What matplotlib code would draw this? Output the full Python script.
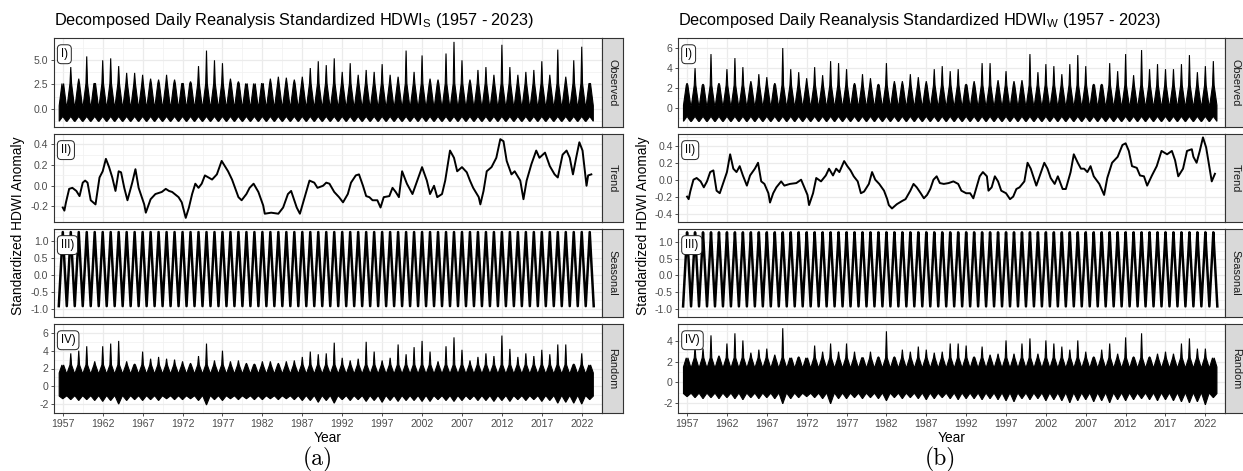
import numpy as np
import matplotlib
matplotlib.use("Agg")
import matplotlib.pyplot as plt

plt.rcParams['font.family'] = ['Liberation Sans', 'DejaVu Sans']
plt.rcParams['mathtext.fontset'] = 'custom'
plt.rcParams['mathtext.rm'] = 'Liberation Sans'
plt.rcParams['mathtext.it'] = 'Liberation Sans:italic'
plt.rcParams['mathtext.bf'] = 'Liberation Sans:bold'

# ---------------- data ----------------
peak_years = list(range(1957, 2024))

obs_a_peaks = [1.5, 4.3, 3.1, 5.4, 2.6, 5.0, 5.2, 4.4, 3.7, 3.7, 3.5, 3.1, 3.0, 3.5, 3.0, 2.6, 2.8,
               4.4, 6.0, 5.0, 4.7, 3.1, 2.8, 2.3, 2.0, 2.4, 3.1, 3.3, 3.2, 3.0, 3.3, 4.2, 4.9, 4.5,
               5.2, 3.8, 4.7, 3.5, 4.0, 3.8, 4.6, 3.5, 3.3, 6.0, 3.8, 5.5, 3.1, 3.0, 5.7, 6.9, 5.0,
               3.0, 4.0, 4.3, 3.5, 6.6, 4.3, 3.5, 3.8, 4.0, 4.9, 3.5, 6.1, 3.3, 5.0, 6.4, 2.6]

rand_a_peaks = [1.8, 3.7, 4.0, 4.5, 2.8, 4.5, 4.8, 5.1, 2.8, 2.5, 3.9, 3.1, 3.3, 3.1, 3.0, 2.8, 2.6,
                3.4, 4.8, 2.9, 4.0, 2.8, 2.9, 2.6, 2.5, 2.8, 2.8, 2.6, 2.8, 2.9, 3.3, 3.9, 3.6, 3.7,
                4.9, 3.2, 2.9, 3.1, 5.0, 3.9, 2.9, 3.2, 4.7, 3.6, 4.4, 5.1, 3.9, 2.8, 4.5, 5.5, 4.1,
                2.9, 3.3, 3.7, 3.4, 5.7, 4.2, 3.3, 3.7, 3.4, 4.1, 3.6, 4.7, 4.7, 2.5, 3.7, 2.0]

rand_a_mins = [-1.4, -1.5, -1.6, -1.5, -1.6, -1.7, -1.6, -2.0, -1.6, -1.5, -1.6, -1.5, -1.6, -1.4,
               -1.5, -1.5, -1.4, -1.6, -2.1, -1.5, -1.6, -1.4, -1.5, -1.4, -1.5, -1.5, -1.4, -1.5,
               -1.4, -1.5, -1.6, -1.6, -1.8, -1.6, -1.9, -1.5, -1.6, -1.5, -1.7, -1.6, -1.8, -1.6,
               -1.7, -1.6, -1.6, -1.7, -1.7, -1.5, -1.6, -1.7, -1.6, -1.5, -1.6, -1.6, -1.7, -1.6,
               -1.7, -1.5, -1.6, -1.5, -1.7, -1.6, -1.9, -1.8, -1.9, -2.0, -1.5]

obs_b_peaks = [2.5, 4.0, 2.4, 5.4, 2.5, 3.9, 5.0, 4.1, 2.7, 3.4, 3.1, 2.5, 6.0, 3.9, 3.6, 3.0, 4.1,
               3.3, 4.7, 4.5, 3.9, 2.5, 3.4, 3.0, 2.4, 4.5, 2.7, 2.7, 3.4, 3.1, 2.7, 3.9, 4.2, 3.7,
               3.9, 2.4, 2.7, 4.5, 4.5, 2.8, 3.7, 2.7, 2.8, 5.4, 3.6, 4.4, 4.2, 3.4, 4.4, 5.3, 4.2,
               2.4, 2.4, 4.5, 3.7, 5.4, 3.3, 5.8, 3.9, 4.4, 3.9, 3.9, 4.4, 5.3, 3.6, 4.2, 4.7]

rand_b_peaks = [1.5, 3.5, 3.3, 4.6, 2.6, 3.8, 4.8, 4.1, 2.9, 3.2, 3.3, 2.7, 5.3, 2.2, 2.5, 2.1, 3.6,
                3.0, 3.8, 3.0, 3.8, 3.0, 2.4, 3.0, 2.5, 5.0, 2.5, 3.2, 3.0, 3.5, 3.2, 2.9, 3.0, 3.8,
                3.8, 3.6, 2.5, 3.5, 2.7, 2.8, 4.1, 2.8, 3.8, 4.3, 2.8, 4.1, 3.8, 3.5, 3.2, 4.1, 3.0,
                2.5, 3.2, 3.8, 2.8, 4.4, 2.5, 4.8, 2.5, 2.8, 3.0, 2.8, 3.8, 4.3, 3.3, 3.3, 1.9]

rand_b_mins = [-1.4, -1.5, -1.6, -1.5, -1.6, -1.5, -1.6, -1.7, -1.5, -1.6, -1.5, -1.6, -2.1, -1.6,
               -1.5, -1.4, -1.5, -1.6, -2.1, -1.6, -1.6, -1.5, -1.6, -1.5, -1.6, -1.8, -1.5, -1.6,
               -1.5, -1.6, -1.7, -1.6, -1.5, -1.6, -1.7, -1.6, -1.6, -1.7, -1.6, -1.7, -1.8, -1.9,
               -1.6, -1.7, -1.6, -1.8, -1.7, -1.8, -2.0, -1.8, -1.7, -1.9, -1.8, -2.0, -1.7, -1.8,
               -1.7, -1.6, -1.7, -1.8, -1.7, -1.8, -1.9, -2.0, -1.9, -2.2, -1.5]

trend_a_years = [1957.0, 1957.2, 1957.4, 1957.8, 1958.2, 1958.7, 1959.1, 1959.5, 1959.8, 1960.1,
                 1960.5, 1961.1, 1961.6, 1962.0, 1962.4, 1962.8, 1963.2, 1963.6, 1964.0, 1964.3,
                 1964.7, 1965.1, 1965.7, 1966.1, 1966.5, 1967.2, 1967.4, 1968.0, 1968.6, 1969.4,
                 1969.9, 1970.3, 1970.7, 1971.5, 1971.9, 1972.4, 1972.8, 1973.2, 1973.6, 1974.0,
                 1974.4, 1974.8, 1975.7, 1976.3, 1976.9, 1977.3, 1977.7, 1978.2, 1979.0, 1979.4,
                 1980.0, 1980.4, 1980.9, 1981.5, 1982.1, 1982.3, 1983.1, 1984.0, 1984.6, 1985.2,
                 1985.6, 1986.3, 1986.7, 1987.3, 1987.9, 1988.5, 1988.9, 1989.6, 1990.0, 1990.4,
                 1991.0, 1991.6, 1992.1, 1992.7, 1993.1, 1993.7, 1994.1, 1994.6, 1995.0, 1995.4,
                 1995.8, 1996.4, 1996.8, 1997.2, 1997.9, 1998.3, 1998.7, 1999.1, 1999.5, 2000.1,
                 2000.8, 2001.4, 2002.0, 2002.6, 2003.0, 2003.5, 2003.9, 2004.5, 2004.9, 2005.5,
                 2006.0, 2006.4, 2007.0, 2007.6, 2008.0, 2008.4, 2009.1, 2009.3, 2009.7, 2010.1,
                 2010.7, 2011.3, 2011.8, 2012.2, 2012.6, 2013.2, 2013.6, 2014.3, 2014.7, 2015.1,
                 2015.7, 2016.3, 2016.7, 2017.4, 2018.0, 2018.6, 2019.0, 2019.6, 2020.1, 2020.5,
                 2020.9, 2021.3, 2021.7, 2022.1, 2022.6, 2022.8, 2023.2]
trend_a_vals = [-0.21, -0.24, -0.16, -0.03, -0.02, -0.05, -0.10, 0.03, 0.05, 0.03,
                -0.14, -0.18, 0.08, 0.14, 0.26, 0.18, 0.08, -0.05, 0.14, 0.13,
                -0.02, -0.14, 0.03, 0.16, -0.02, -0.18, -0.26, -0.13, -0.08, -0.06,
                -0.03, -0.05, -0.06, -0.11, -0.16, -0.31, -0.21, -0.08, 0.02, -0.02,
                0.02, 0.10, 0.06, 0.11, 0.24, 0.19, 0.14, 0.06, -0.11, -0.14,
                -0.08, -0.02, 0.02, -0.06, -0.19, -0.27, -0.26, -0.27, -0.21, -0.08,
                -0.05, -0.21, -0.27, -0.11, 0.05, 0.03, -0.02, 0.00, 0.03, 0.02,
                -0.06, -0.11, -0.16, -0.08, 0.03, 0.10, 0.11, 0.00, -0.10, -0.11,
                -0.14, -0.14, -0.21, -0.11, -0.10, -0.02, -0.06, -0.11, 0.14, 0.02,
                -0.08, 0.05, 0.18, 0.05, -0.08, 0.00, -0.11, -0.08, 0.05, 0.34,
                0.27, 0.14, 0.18, 0.13, 0.05, -0.02, -0.11, -0.18, -0.05, 0.14,
                0.18, 0.27, 0.45, 0.43, 0.24, 0.11, 0.14, 0.05, -0.13, 0.05,
                0.21, 0.34, 0.27, 0.32, 0.19, 0.11, 0.08, 0.30, 0.34, 0.27,
                0.11, 0.27, 0.42, 0.34, 0.00, 0.10, 0.11]

trend_b_years = [1957.0, 1957.2, 1957.4, 1957.8, 1958.2, 1958.7, 1959.1, 1959.5, 1959.9, 1960.3,
                 1960.7, 1961.1, 1961.6, 1962.0, 1962.4, 1962.8, 1963.2, 1963.6, 1964.0, 1964.5,
                 1964.9, 1965.5, 1965.9, 1966.3, 1966.7, 1967.2, 1967.4, 1967.8, 1968.2, 1968.8,
                 1969.2, 1969.9, 1970.7, 1971.3, 1971.7, 1972.1, 1972.3, 1972.8, 1973.2, 1973.8,
                 1974.4, 1974.8, 1975.3, 1975.7, 1976.1, 1976.7, 1977.1, 1977.5, 1977.9, 1978.4,
                 1978.8, 1979.2, 1979.8, 1980.2, 1980.6, 1981.1, 1981.7, 1982.1, 1982.3, 1982.7,
                 1983.3, 1984.0, 1984.4, 1985.0, 1985.4, 1985.8, 1986.3, 1986.7, 1987.1, 1987.5,
                 1987.9, 1988.3, 1988.7, 1989.2, 1989.8, 1990.4, 1991.0, 1991.4, 1992.0, 1992.5,
                 1992.9, 1993.3, 1993.7, 1994.1, 1994.6, 1994.8, 1995.2, 1995.6, 1996.0, 1996.4,
                 1997.0, 1997.5, 1997.9, 1998.3, 1998.7, 1999.3, 1999.7, 2000.1, 2000.8, 2001.4,
                 2001.8, 2002.2, 2002.6, 2003.1, 2003.5, 2004.1, 2004.5, 2005.1, 2005.5, 2006.0,
                 2006.4, 2006.8, 2007.2, 2007.6, 2008.0, 2008.7, 2009.3, 2009.7, 2010.3, 2011.0,
                 2011.6, 2012.0, 2012.4, 2012.8, 2013.4, 2013.8, 2014.3, 2014.7, 2015.3, 2015.9,
                 2016.5, 2017.2, 2017.8, 2018.2, 2018.6, 2019.2, 2019.7, 2020.3, 2020.5, 2020.9,
                 2021.3, 2021.7, 2022.1, 2022.6, 2022.8, 2023.2]
trend_b_vals = [-0.20, -0.23, -0.14, 0.00, 0.02, -0.02, -0.09, -0.02, 0.09, 0.11,
                -0.13, -0.16, -0.02, 0.09, 0.30, 0.13, 0.09, 0.16, 0.05, -0.07,
                0.05, 0.13, 0.20, -0.02, -0.05, -0.16, -0.27, -0.16, -0.09, -0.02,
                -0.07, -0.05, -0.04, 0.00, -0.09, -0.18, -0.30, -0.16, 0.02, -0.02,
                0.05, 0.13, 0.05, 0.13, 0.09, 0.22, 0.16, 0.11, 0.04, -0.02,
                -0.16, -0.14, -0.05, 0.09, 0.00, -0.05, -0.13, -0.23, -0.30, -0.34,
                -0.29, -0.25, -0.23, -0.13, -0.05, -0.09, -0.16, -0.22, -0.18, -0.11,
                0.00, 0.04, -0.04, -0.05, -0.04, -0.02, -0.05, -0.13, -0.16, -0.16,
                -0.22, -0.09, 0.04, 0.09, 0.04, -0.13, -0.09, 0.04, -0.02, -0.13,
                -0.16, -0.23, -0.20, -0.11, -0.09, -0.02, 0.20, 0.13, -0.07, 0.09,
                0.20, 0.13, 0.02, -0.05, 0.04, -0.11, -0.11, 0.09, 0.30, 0.20,
                0.13, 0.13, 0.09, 0.16, 0.04, -0.05, -0.18, 0.02, 0.20, 0.27,
                0.41, 0.43, 0.34, 0.16, 0.14, 0.05, 0.04, -0.07, 0.05, 0.16,
                0.34, 0.30, 0.34, 0.23, 0.04, 0.13, 0.34, 0.36, 0.27, 0.20,
                0.34, 0.50, 0.38, 0.09, -0.02, 0.07]

# one seasonal cycle (12 steps per year, starting at the annual peak)
season_a_cycle = [1.25, 0.88, 0.52, 0.16, -0.20, -0.57, -0.93, -0.57, -0.20, 0.16, 0.52, 0.88]
season_b_cycle = [1.30, 0.92, 0.54, 0.17, -0.20, -0.57, -0.93, -0.57, -0.20, 0.17, 0.54, 0.92]

# band levels of the dense daily series (body of the black band)
obs_a_band = dict(off_top=0.3, high_top=2.6, off_low=-1.3, peak_low=-0.8)
obs_b_band = dict(off_top=0.3, high_top=2.3, off_low=-1.3, peak_low=-0.8)
rand_band = dict(off_top=1.5, high_top=2.4, off_low=-1.1)

x_ticks = list(range(1957, 2023, 5))
start_year, end_year = 1956.5, 2023.5

# ---------------- layout ----------------
W, H = 1243, 471
fig = plt.figure(figsize=(W / 100, H / 100), dpi=100)

rows_px = [(38, 127), (134, 222), (229, 317), (324, 413)]
cols_px = [(54, 601.7), (678.3, 1225.3)]
strip_w = 21
strip_names = ['Observed', 'Trend', 'Seasonal', 'Random']
panel_tags = ['I)', 'II)', 'III)', 'IV)']

ylims = {
    'a': [(-1.89, 7.3), (-0.35, 0.49), (-1.03, 1.34), (-2.35, 6.05)],
    'b': [(-1.86, 6.4), (-0.40, 0.54), (-1.03, 1.40), (-2.43, 5.71)],
}
yticks = {
    'a': [[0, 2.5, 5.0], [-0.2, 0.0, 0.2, 0.4], [-1.0, -0.5, 0.0, 0.5, 1.0], [-2, 0, 2, 4, 6]],
    'b': [[0, 2, 4, 6], [-0.4, -0.2, 0.0, 0.2, 0.4], [-1.0, -0.5, 0.0, 0.5, 1.0], [-2, 0, 2, 4]],
}
yfmt = {
    'a': ['{:.1f}', '{:.1f}', '{:.1f}', '{:.0f}'],
    'b': ['{:.0f}', '{:.1f}', '{:.1f}', '{:.0f}'],
}
xlim = (1955.9, 2024.06)


def fx(px):
    return px / W


def fy(py):
    return 1 - py / H


def band_polygon(ax, peaks, off_top, high_top, off_low, peak_lows):
    ux, uy, lx, ly = [], [], [], []
    for k, p, pl in zip(peak_years, peaks, peak_lows):
        ux += [k - 0.45, k - 0.1, k, k + 0.1, k + 0.45]
        uy += [off_top, high_top, p, high_top, off_top]
        lx += [k - 0.45, k, k + 0.45]
        ly += [off_low, pl, off_low]
    xs = ux + lx[::-1]
    ys = uy + ly[::-1]
    ax.fill(xs, ys, color='black', lw=0.8, ec='black', zorder=3)


def seasonal_line(ax, cycle):
    xs, ys = [], []
    for k in range(1956, 2024):
        for i, v in enumerate(cycle):
            x = k + i / len(cycle)
            if start_year <= x <= end_year:
                xs.append(x)
                ys.append(v)
    ax.plot(xs, ys, color='black', lw=1.8, zorder=3)


def style_axes(ax, ylim, ticks, fmt, bottom):
    ax.set_xlim(*xlim)
    ax.set_ylim(*ylim)
    ax.set_xticks(x_ticks)
    ax.set_xticks([t + 2.5 for t in x_ticks], minor=True)
    ax.set_yticks(ticks)
    ax.set_yticklabels([fmt.format(t) for t in ticks])
    steps = ticks[1] - ticks[0]
    minors = [ticks[0] - steps / 2] + [t + steps / 2 for t in ticks]
    ax.set_yticks(minors, minor=True)
    ax.grid(which='major', color='#EBEBEB', lw=0.9, zorder=0)
    ax.grid(which='minor', color='#F2F2F2', lw=0.6, zorder=0)
    ax.set_axisbelow(True)
    for s in ax.spines.values():
        s.set_color('#333333')
        s.set_linewidth(0.8)
        s.set_zorder(5)
    ax.tick_params(which='major', length=2.5, width=0.6, color='#333333',
                   labelsize=7.6, labelcolor='#4D4D4D', pad=1.5)
    ax.tick_params(which='minor', length=0)
    if bottom:
        ax.set_xticklabels([str(t) for t in x_ticks])
    else:
        ax.tick_params(axis='x', which='major', length=0, labelbottom=False)


panel_data = {
    'a': dict(obs=obs_a_peaks, obs_band=obs_a_band, rand=rand_a_peaks, rand_min=rand_a_mins,
              ty=trend_a_years, tv=trend_a_vals, season=season_a_cycle),
    'b': dict(obs=obs_b_peaks, obs_band=obs_b_band, rand=rand_b_peaks, rand_min=rand_b_mins,
              ty=trend_b_years, tv=trend_b_vals, season=season_b_cycle),
}

sub = {'a': 'S', 'b': 'W'}
for ci, key in enumerate(['a', 'b']):
    x0, x1 = cols_px[ci]
    d = panel_data[key]
    for ri in range(4):
        y0, y1 = rows_px[ri]
        ax = fig.add_axes([fx(x0), fy(y1), fx(x1 - x0), (y1 - y0) / H])
        ax.set_facecolor('white')
        if ri == 0:
            b = d['obs_band']
            band_polygon(ax, d['obs'], b['off_top'], b['high_top'], b['off_low'],
                         [b['peak_low']] * len(peak_years))
        elif ri == 1:
            ax.plot(d['ty'], d['tv'], color='black', lw=1.4, zorder=3)
        elif ri == 2:
            seasonal_line(ax, d['season'])
        else:
            band_polygon(ax, d['rand'], rand_band['off_top'], rand_band['high_top'],
                         rand_band['off_low'], d['rand_min'])
        style_axes(ax, ylims[key][ri], yticks[key][ri], yfmt[key][ri], ri == 3)
        ax.text(0.0125, 0.885, panel_tags[ri], transform=ax.transAxes, ha='left', va='top',
                fontsize=8.3, color='black', zorder=6,
                bbox=dict(boxstyle='round,pad=0.3,rounding_size=0.35', fc='white',
                          ec='#222222', lw=0.7))
        # strip
        sax = fig.add_axes([fx(x1), fy(y1), strip_w / W, (y1 - y0) / H])
        sax.set_facecolor('#D9D9D9')
        sax.set_xticks([])
        sax.set_yticks([])
        for s in sax.spines.values():
            s.set_color('#333333')
            s.set_linewidth(0.8)
        sax.text(0.5, 0.5, strip_names[ri], rotation=-90, ha='center', va='center',
                 fontsize=7.8, color='#1A1A1A', transform=sax.transAxes)

    fig.text(fx(x0), fy(20), 'Decomposed Daily Reanalysis Standardized HDWI$_{\\mathrm{%s}}$ (1957 - 2023)' % sub[key],
             ha='left', va='center', fontsize=11.7, color='black')
    fig.text(fx(x0 - 35.5), fy(225.5), 'Standardized HDWI Anomaly', rotation=90,
             ha='center', va='center', fontsize=9.9, color='black')
    fig.text(fx((x0 + x1) / 2), fy(438), 'Year', ha='center', va='center',
             fontsize=9.9, color='black')

fig.text(fx(318), fy(459), '(a)', family='cmr10', fontsize=17, ha='center', va='center')
fig.text(fx(940.5), fy(459), '(b)', family='cmr10', fontsize=17, ha='center', va='center')

fig.savefig('out.png', dpi=100, facecolor='white')
